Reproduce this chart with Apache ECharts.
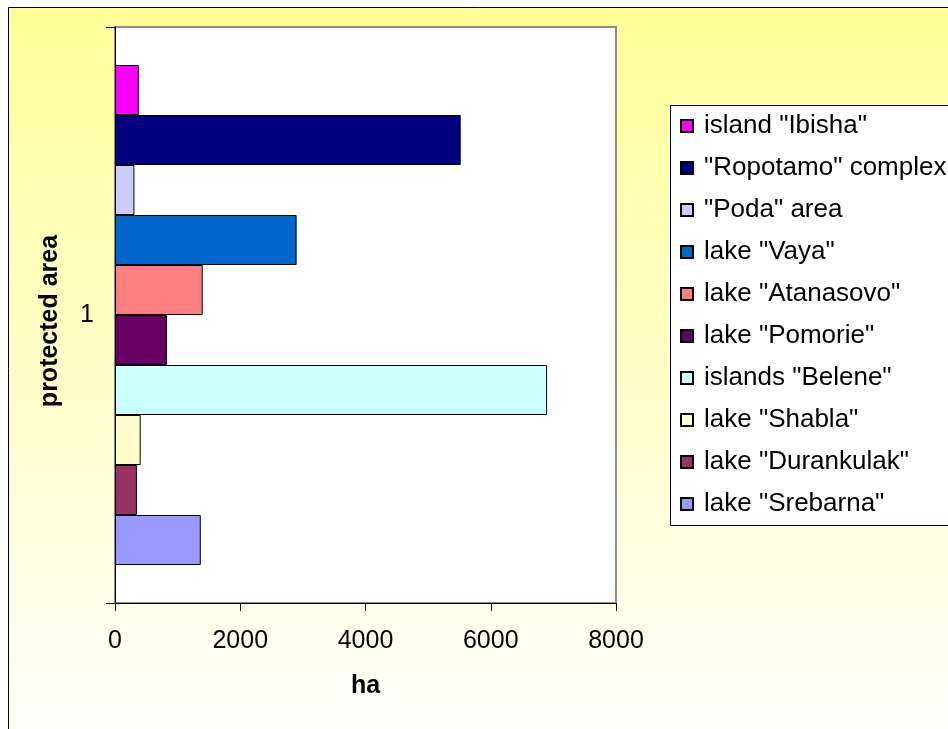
<!DOCTYPE html>
<html>
<head>
<meta charset="utf-8">
<title>Protected areas (ha)</title>
<script src="https://cdn.jsdelivr.net/npm/echarts@6/dist/echarts.min.js"></script>
<style>
  html, body { margin: 0; padding: 0; background: #ffffff; }
  #chart { width: 948px; height: 729px; }
</style>
</head>
<body>
<div id="chart"></div>
<script>
// Areas of the protected sites, in hectares
const categories = ['1'];
const areaNames = [
  'island "Ibisha"',
  '"Ropotamo" complex',
  '"Poda" area',
  'lake "Vaya"',
  'lake "Atanasovo"',
  'lake "Pomorie"',
  'islands "Belene"',
  'lake "Shabla"',
  'lake "Durankulak"',
  'lake "Srebarna"'
];
const areaValues = [380, 5520, 310, 2900, 1400, 830, 6900, 410, 350, 1370];
const areaColors = ['#FF00FF', '#000080', '#CCCCFF', '#0066CC', '#FF8080',
                    '#660066', '#CCFFFF', '#FFFFCC', '#993366', '#9999FF'];
const xTicks = { min: 0, max: 8000, step: 2000 };

const FONT = '"Liberation Sans", Arial, sans-serif';

const chart = echarts.init(document.getElementById('chart'));

const series = areaNames.map((name, i) => ({
  name: name,
  type: 'bar',
  data: [areaValues[i]],
  barGap: '0%',
  barCategoryGap: '13.2%',
  itemStyle: { color: areaColors[i], borderColor: '#000000', borderWidth: 1 },
  emphasis: { disabled: true }
}));

chart.setOption({
  animation: false,
  graphic: [
    {
      // chart frame with the yellow-to-white wash
      type: 'rect', z: -10, silent: true,
      shape: { x: 8.5, y: 7.5, width: 1000, height: 760 },
      style: {
        stroke: '#000000', lineWidth: 1,
        fill: new echarts.graphic.LinearGradient(0, 0, 0, 1, [
          { offset: 0, color: '#FFFF99' },
          { offset: 1, color: '#FFFFFF' }
        ])
      }
    },
    {
      // legend box
      type: 'rect', z: -5, silent: true,
      shape: { x: 670.5, y: 105.5, width: 400, height: 420 },
      style: { stroke: '#000000', lineWidth: 1, fill: '#FFFFFF' }
    }
  ],
  grid: {
    left: 115, top: 27, right: 332, bottom: 126,
    show: true, backgroundColor: '#FFFFFF',
    borderColor: '#8c8c8c', borderWidth: 2
  },
  legend: {
    orient: 'vertical',
    left: 675, top: 108,
    itemWidth: 12, itemHeight: 12,
    itemGap: 16,
    icon: 'rect',
    textStyle: {
      fontFamily: FONT, fontSize: 26, color: '#000000',
      lineHeight: 26, padding: [0, 0, 0, 6]
    },
    selectedMode: false
  },
  xAxis: {
    type: 'value',
    min: xTicks.min, max: xTicks.max, interval: xTicks.step,
    name: 'ha',
    nameLocation: 'middle',
    nameGap: 71,
    nameTextStyle: { fontFamily: FONT, fontSize: 25, fontWeight: 'bold', color: '#000000' },
    axisLine: { show: true, lineStyle: { color: '#000000', width: 1 } },
    axisTick: { show: true, length: 8, lineStyle: { color: '#000000' } },
    axisLabel: {
      fontFamily: FONT, fontSize: 25, color: '#000000', margin: 26,
      formatter: (v) => String(v)
    },
    splitLine: { show: false }
  },
  yAxis: {
    type: 'category',
    data: categories,
    name: 'protected area',
    nameLocation: 'middle',
    nameGap: 52,
    nameRotate: 90,
    nameTextStyle: {
      fontFamily: FONT, fontSize: 25, fontWeight: 'bold', color: '#000000',
      padding: [0, 12, 0, 0]
    },
    axisLine: { show: true, lineStyle: { color: '#000000', width: 1 } },
    axisTick: { show: true, length: 9, lineStyle: { color: '#000000' } },
    axisLabel: { fontFamily: FONT, fontSize: 25, color: '#000000', margin: 21 }
  },
  series: series
});
</script>
</body>
</html>
